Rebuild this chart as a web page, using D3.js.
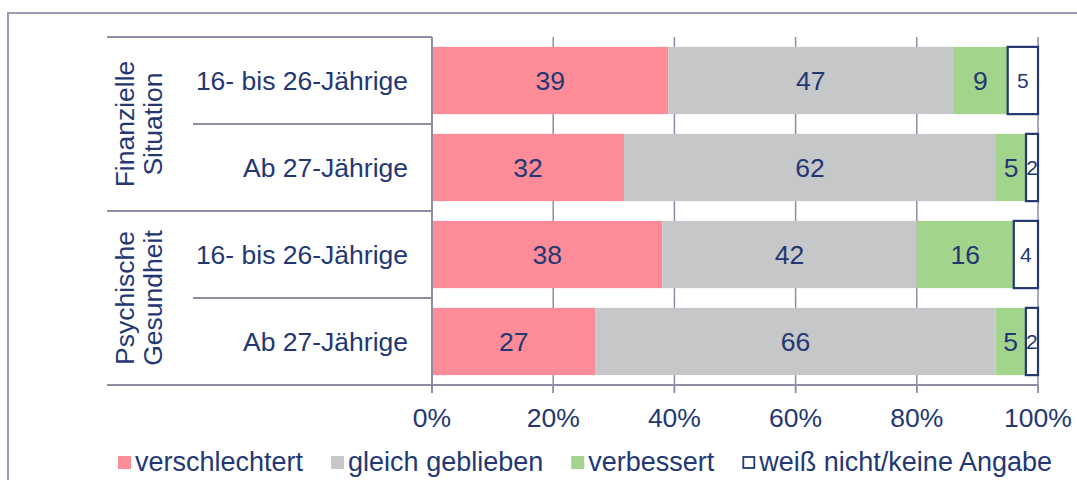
<!DOCTYPE html>
<html>
<head>
<meta charset="utf-8">
<script src="https://cdn.jsdelivr.net/npm/d3@7"></script>
<style>
  body { margin: 0; background: #fff; }
  svg text { font-family: "Liberation Sans", Arial, sans-serif; fill: #233872; }
</style>
</head>
<body>
<svg id="chart" width="1077" height="480"></svg>
<script>
// data
var groups = [["Finanzielle", "Situation"], ["Psychische", "Gesundheit"]];
var rows = ["16- bis 26-Jährige", "Ab 27-Jährige", "16- bis 26-Jährige", "Ab 27-Jährige"];
var seriesNames = ["verschlechtert", "gleich geblieben", "verbessert", "weiß nicht/keine Angabe"];
var verschlechtert = [39, 32, 38, 27];
var gleichGeblieben = [47, 62, 42, 66];
var verbessert = [9, 5, 16, 5];
var weissNicht = [5, 2, 4, 2];
var tickValues = [0, 0.2, 0.4, 0.6, 0.8, 1];

var colors = ["#fe8c98", "#c6c7c9", "#a3d48c", "#ffffff"];
var lineCol = "#8d8da6",
    textCol = "#233872";

var svg = d3.select("#chart");

var table = rows.map(function (r, i) {
    return { i: i, a: verschlechtert[i], b: gleichGeblieben[i], c: verbessert[i], d: weissNicht[i] };
});
var keys = ["a", "b", "c", "d"];
var stacked = d3.stack().keys(keys).offset(d3.stackOffsetExpand)(table);

var x = d3.scaleLinear().domain([0, 1]).range([432, 1038]);
var y = d3.scaleBand().domain(d3.range(rows.length)).range([37, 385])
    .paddingInner(0.227).paddingOuter(0.1135);
var step = y.step();

// outer frame
svg.append("path").attr("d", "M8,480V13H1077")
    .attr("fill", "none").attr("stroke", "#9a9ab2").attr("stroke-width", 2);

// gridlines
svg.append("g").selectAll("line").data(tickValues.slice(1)).join("line")
    .attr("x1", d => x(d)).attr("x2", d => x(d))
    .attr("y1", 37).attr("y2", 393)
    .attr("stroke", lineCol).attr("stroke-width", 1.5);

// bars
var layer = svg.append("g").selectAll("g").data(stacked).join("g")
    .attr("fill", (d, i) => colors[i]);

layer.selectAll("rect").data(d => d).join("rect")
    .attr("x", d => x(d[0]))
    .attr("width", d => x(d[1]) - x(d[0]))
    .attr("y", d => y(d.data.i))
    .attr("height", y.bandwidth())
    .attr("stroke", function () { return d3.select(this.parentNode).datum().index === 3 ? "#233872" : "none"; })
    .attr("stroke-width", 2.2);

// value labels
layer.each(function (s) {
    var last = s.index === 3;
    d3.select(this).selectAll("text").data(s).join("text")
        .attr("x", d => (x(d[0]) + x(d[1])) / 2)
        .attr("y", d => y(d.data.i) + y.bandwidth() / 2 + (last ? 7.5 : 9.5))
        .attr("text-anchor", "middle")
        .style("font-size", last ? "21px" : "26.5px")
        .text(d => d.data[s.key]);
});

// table lines on the left
var tl = svg.append("g").attr("stroke", lineCol).attr("stroke-width", 2);
tl.append("line").attr("x1", 432).attr("x2", 432).attr("y1", 37).attr("y2", 393);
d3.range(rows.length + 1).forEach(function (k) {
    var yy = 37 + k * step;
    tl.append("line")
        .attr("x1", k % 2 === 0 ? 107 : 193)
        .attr("x2", k === rows.length ? 1038 : 432)
        .attr("y1", yy).attr("y2", yy);
});

// bottom ticks
svg.append("g").selectAll("line").data(tickValues).join("line")
    .attr("x1", d => x(d)).attr("x2", d => x(d))
    .attr("y1", 385).attr("y2", 393)
    .attr("stroke", lineCol).attr("stroke-width", 1.5);

svg.append("g").selectAll("text").data(tickValues).join("text")
    .attr("x", d => x(d)).attr("y", 427)
    .attr("text-anchor", "middle")
    .style("font-size", "26.5px")
    .text(d3.format(".0%"));

// row labels
svg.append("g").selectAll("text").data(rows).join("text")
    .attr("x", 408)
    .attr("y", (d, i) => y(i) + y.bandwidth() / 2 + 9)
    .attr("text-anchor", "end")
    .style("font-size", "26.5px")
    .text(d => d);

// group labels (rotated)
groups.forEach(function (g, gi) {
    var cy = 37 + step * (gi * 2 + 1);
    var t = svg.append("text")
        .attr("transform", "translate(139," + cy + ") rotate(-90)")
        .attr("text-anchor", "middle")
        .style("font-size", "26.5px");
    t.append("tspan").attr("x", 0).attr("y", -5).text(g[0]);
    t.append("tspan").attr("x", 0).attr("y", 23).text(g[1]);
});

// legend
var lx = 118;
var leg = svg.append("g");
seriesNames.forEach(function (name, i) {
    leg.append("rect")
        .attr("x", lx + (i === 3 ? 1 : 0)).attr("y", 456 + (i === 3 ? 1 : 0))
        .attr("width", i === 3 ? 11 : 13).attr("height", i === 3 ? 11 : 13)
        .attr("fill", colors[i])
        .attr("stroke", i === 3 ? textCol : "none").attr("stroke-width", 1.8);
    var t = leg.append("text")
        .attr("x", lx + 17).attr("y", 471)
        .style("font-size", "27px")
        .text(name);
    lx += 17 + t.node().getComputedTextLength() + 28;
});
</script>
</body>
</html>
